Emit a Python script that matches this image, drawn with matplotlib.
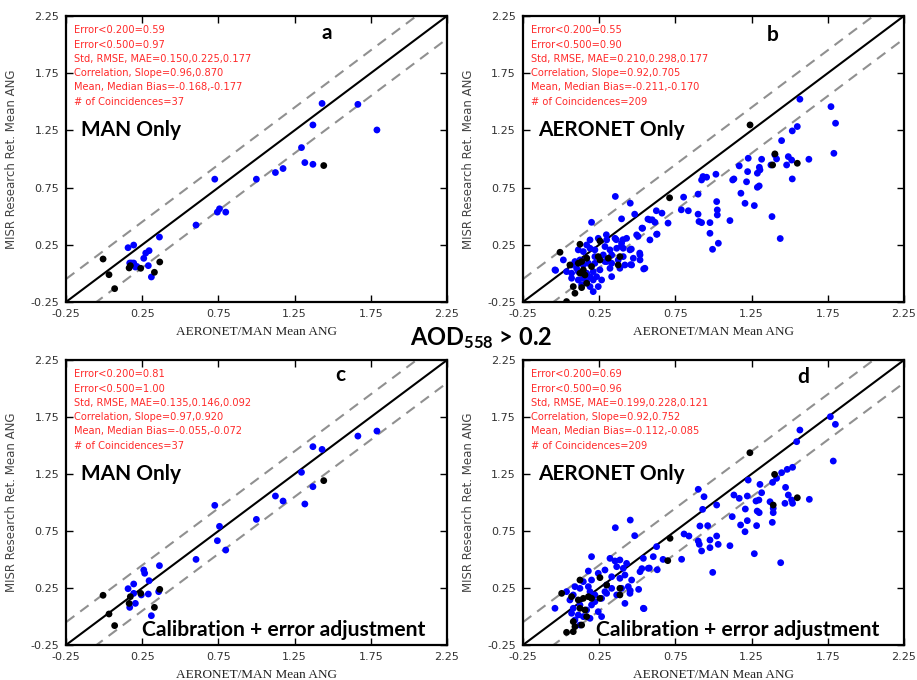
import matplotlib
matplotlib.use("Agg")
import matplotlib.pyplot as plt
import numpy as np

plt.rcParams['mathtext.fontset'] = 'custom'
plt.rcParams['mathtext.rm'] = 'Lato:bold'
plt.rcParams['mathtext.it'] = 'Lato:bold'
plt.rcParams['mathtext.bf'] = 'Lato:bold'

ticks = [-0.25, 0.25, 0.75, 1.25, 1.75, 2.25]
tick_labels = ["-0.25", "0.25", "0.75", "1.25", "1.75", "2.25"]

# panel a : MAN only, before adjustment
a_blue = [(1.43, 1.485), (1.665, 1.477), (1.79, 1.253), (1.37, 1.297), (1.295, 1.099),
          (1.317, 0.968), (1.37, 0.953), (1.174, 0.916), (1.124, 0.881), (0.999, 0.823),
          (0.726, 0.823), (0.757, 0.564), (0.743, 0.535), (0.798, 0.535), (0.603, 0.422),
          (0.363, 0.317), (0.157, 0.224), (0.194, 0.247), (0.273, 0.177), (0.295, 0.198),
          (0.26, 0.131), (0.168, 0.09), (0.194, 0.09), (0.205, 0.055), (0.29, 0.067),
          (0.31, -0.032), (0.18, 0.09), (0.215, 0.06)]
a_black = [(-0.007, 0.125), (0.032, -0.012), (0.069, -0.134), (0.164, 0.047), (0.172, 0.067),
           (0.24, 0.044), (0.33, 0.009), (0.365, 0.099), (1.441, 0.942)]

# panel c : MAN only, calibrated
c_blue = [(1.79, 1.627), (1.665, 1.583), (1.37, 1.49), (1.43, 1.466), (1.295, 1.265),
          (1.37, 1.139), (1.124, 1.057), (1.174, 1.013), (1.317, 0.987), (0.726, 0.975),
          (0.999, 0.852), (0.757, 0.791), (0.743, 0.665), (0.798, 0.583), (0.603, 0.501),
          (0.363, 0.446), (0.26, 0.408), (0.266, 0.379), (0.295, 0.314), (0.157, 0.244),
          (0.194, 0.285), (0.29, 0.197), (0.244, 0.189), (0.194, 0.203), (0.358, 0.218),
          (0.205, 0.115), (0.168, 0.08), (0.31, 0.007)]
c_black = [(-0.007, 0.186), (0.032, 0.022), (0.069, -0.08), (0.164, 0.115), (0.172, 0.174),
           (0.24, 0.203), (0.33, 0.08), (0.365, 0.238), (1.441, 1.192)]

# panel b : AERONET only, before adjustment
b_blue = [(1.567, 1.522), (1.771, 1.457), (1.801, 1.312), (1.790, 1.049), (1.550, 1.283),
          (1.517, 1.245), (1.447, 1.160), (1.228, 1.006), (1.316, 0.997), (1.626, 0.997),
          (1.414, 1.0), (1.403, 1.035), (1.491, 1.02), (1.48, 0.947), (1.513, 0.99),
          (1.377, 0.947), (1.169, 0.939), (1.301, 0.927), (1.305, 0.904), (1.288, 0.875),
          (1.224, 0.889), (1.126, 0.816), (1.134, 0.825), (1.217, 0.80), (1.288, 0.752),
          (1.30, 0.764), (1.18, 0.70), (1.517, 0.825), (1.207, 0.612), (1.268, 0.592),
          (1.021, 0.627), (1.025, 0.554), (1.025, 0.51), (1.108, 0.461), (1.384, 0.496),
          (1.438, 0.304), (0.977, 0.443), (0.922, 0.443), (0.977, 0.35), (1.032, 0.263),
          (0.994, 0.21), (0.955, 0.84), (0.922, 0.816), (1.016, 0.866), (0.931, 0.846),
          (0.804, 0.666), (0.899, 0.692), (0.789, 0.555), (0.835, 0.547), (0.899, 0.517),
          (0.905, 0.453), (0.356, 0.672), (0.454, 0.613), (0.483, 0.517), (0.625, 0.547),
          (0.662, 0.526), (0.57, 0.474), (0.598, 0.468), (0.702, 0.439), (0.531, 0.395),
          (0.63, 0.343), (0.505, 0.323), (0.461, 0.212), (0.516, 0.177), (0.457, 0.076),
          (0.542, 0.038), (-0.036, 0.026),
          (0.200, 0.446), (0.397, 0.476), (0.583, 0.467), (0.616, 0.446), (0.535, 0.394),
          (0.496, 0.336), (0.627, 0.341), (0.583, 0.292), (0.430, 0.306), (0.397, 0.263),
          (0.354, 0.306), (0.299, 0.292), (0.244, 0.306), (0.190, 0.292), (0.168, 0.248),
          (0.113, 0.205), (0.146, 0.190), (0.190, 0.219), (0.222, 0.205), (0.288, 0.234),
          (0.321, 0.205), (0.365, 0.219), (0.408, 0.219), (0.452, 0.205), (0.518, 0.161),
          (0.474, 0.132), (0.408, 0.146), (0.332, 0.161), (0.277, 0.161), (0.222, 0.146),
          (0.168, 0.132), (0.124, 0.117), (0.091, 0.103), (0.069, 0.073), (0.102, 0.044),
          (0.146, 0.073), (0.179, 0.088), (0.222, 0.088), (0.288, 0.103), (0.332, 0.088),
          (0.375, 0.117), (0.419, 0.073), (0.463, 0.073), (0.518, 0.117), (0.550, 0.044),
          (0.386, 0.044), (0.321, 0.044), (0.255, 0.030), (0.211, 0.015), (0.168, 0.001),
          (0.113, 0.015), (0.069, 0.001), (0.036, 0.015), (0.015, 0.117), (-0.040, 0.030),
          (0.233, -0.029), (0.190, -0.029), (0.146, -0.043), (0.113, -0.058), (0.168, -0.072),
          (0.211, -0.058), (0.266, -0.058), (0.135, -0.101), (0.190, -0.116), (0.244, -0.116),
          (0.211, -0.160), (0.299, 0.103), (0.332, -0.029), (0.069, -0.043), (0.297, 0.337),
          (0.362, 0.294), (0.406, 0.294), (0.395, 0.235)]
b_black = [(1.24, 1.297), (1.403, 1.044), (1.388, 0.947), (1.550, 0.962), (0.712, 0.66),
           (0.124, 0.254), (0.255, 0.283), (-0.007, 0.184), (0.058, 0.073), (0.113, 0.088),
           (0.135, 0.103), (0.168, 0.132), (0.244, 0.146), (0.255, 0.117), (0.200, 0.059),
           (0.146, 0.030), (0.124, 0.001), (0.157, -0.014), (0.386, 0.146), (0.375, 0.073),
           (0.310, 0.132), (0.080, -0.116), (0.135, -0.125), (0.168, -0.087), (0.091, -0.174),
           (0.036, -0.247)]

# panel d : AERONET only, calibrated
d_blue = [(1.567, 1.636), (1.546, 1.534), (1.767, 1.753), (1.80, 1.686), (1.786, 1.364),
          (1.519, 1.309), (1.484, 1.291), (1.447, 1.262), (1.414, 1.212), (1.388, 1.177),
          (1.305, 1.159), (1.228, 1.197), (1.316, 1.086), (1.473, 1.133), (1.491, 1.066),
          (1.513, 1.022), (1.519, 0.993), (1.469, 0.993), (1.629, 1.028), (1.371, 1.007),
          (1.392, 0.949), (1.392, 0.911), (1.386, 0.826), (1.298, 1.022), (1.279, 1.013),
          (1.287, 0.925), (1.300, 0.911), (1.222, 1.057), (1.169, 1.037), (1.134, 1.066),
          (1.209, 0.943), (1.222, 0.841), (1.178, 0.803), (1.207, 0.744), (1.283, 0.797),
          (1.123, 0.876), (1.021, 0.978), (0.929, 0.940), (0.938, 1.051), (0.900, 1.116),
          (0.911, 0.794), (0.962, 0.797), (0.807, 0.724), (0.839, 0.706), (0.900, 0.662),
          (0.907, 0.633), (0.977, 0.671), (1.021, 0.706), (1.031, 0.633), (0.977, 0.604),
          (0.922, 0.575), (1.108, 0.621), (1.268, 0.551), (1.441, 0.472), (0.995, 0.387),
          (0.791, 0.502), (0.627, 0.613), (0.605, 0.525), (0.540, 0.510), (0.53, 0.42),
          (0.579, 0.425), (0.631, 0.41), (0.356, 0.779), (0.454, 0.846), (0.483, 0.709),
          (0.454, 0.227), (0.509, 0.238), (0.544, 0.069), (0.669, 0.501),
          (0.200, 0.525), (0.321, 0.510), (0.354, 0.487), (0.386, 0.496), (0.430, 0.466),
          (0.408, 0.423), (0.365, 0.437), (0.518, 0.393), (0.572, 0.423), (0.179, 0.399),
          (0.244, 0.379), (0.288, 0.408), (0.332, 0.349), (0.386, 0.335), (0.419, 0.364),
          (0.463, 0.320), (0.200, 0.320), (0.146, 0.306), (0.091, 0.262), (0.124, 0.247),
          (0.179, 0.262), (0.299, 0.276), (0.332, 0.247), (0.397, 0.247), (0.441, 0.262),
          (0.365, 0.189), (0.299, 0.203), (0.266, 0.159), (0.222, 0.130), (0.190, 0.218),
          (0.080, 0.189), (0.058, 0.145), (0.036, 0.218), (-0.040, 0.072), (0.124, 0.101),
          (0.168, 0.057), (0.200, 0.101), (0.244, 0.042), (0.080, 0.072), (0.069, 0.028),
          (0.113, 0.013), (0.146, -0.001), (0.190, -0.016), (0.091, -0.031), (0.124, -0.075),
          (0.288, 0.218), (0.540, 0.072), (0.419, 0.115), (0.452, 0.203), (0.222, 0.189),
          (0.266, -0.001)]
d_black = [(1.239, 1.437), (1.401, 1.247), (1.392, 0.978), (1.550, 1.042), (0.715, 0.686),
           (0.70, 0.49), (0.124, 0.320), (0.255, 0.341), (0.004, 0.203), (0.069, 0.174),
           (0.113, 0.145), (0.146, 0.159), (0.179, 0.174), (0.200, 0.159), (0.255, 0.159),
           (0.124, 0.072), (0.157, 0.057), (0.168, -0.001), (0.386, 0.189), (0.386, 0.247),
           (0.080, -0.045), (0.091, -0.089), (0.135, -0.075), (0.036, -0.139), (0.080, -0.133),
           (0.299, 0.276)]

stats_a = ["Error<0.200=0.59", "Error<0.500=0.97", "Std, RMSE, MAE=0.150,0.225,0.177",
           "Correlation, Slope=0.96,0.870", "Mean, Median Bias=-0.168,-0.177",
           "# of Coincidences=37"]
stats_b = ["Error<0.200=0.55", "Error<0.500=0.90", "Std, RMSE, MAE=0.210,0.298,0.177",
           "Correlation, Slope=0.92,0.705", "Mean, Median Bias=-0.211,-0.170",
           "# of Coincidences=209"]
stats_c = ["Error<0.200=0.81", "Error<0.500=1.00", "Std, RMSE, MAE=0.135,0.146,0.092",
           "Correlation, Slope=0.97,0.920", "Mean, Median Bias=-0.055,-0.072",
           "# of Coincidences=37"]
stats_d = ["Error<0.200=0.69", "Error<0.500=0.96", "Std, RMSE, MAE=0.199,0.228,0.121",
           "Correlation, Slope=0.92,0.752", "Mean, Median Bias=-0.112,-0.085",
           "# of Coincidences=209"]

BOLD = ['Lato', 'DejaVu Sans']


def draw_panel(ax, blue, black, stats, letter, letter_xy, label, calib_x=None):
    bx, by = np.array(blue).T
    kx, ky = np.array(black).T
    lim = [-0.25, 2.25]
    ax.plot(lim, lim, color='black', lw=1.5, zorder=2)
    ax.plot(lim, [lim[0] + 0.2, lim[1] + 0.2], color='#909090', lw=1.5, dashes=(5, 3.5), zorder=2)
    ax.plot(lim, [lim[0] - 0.2, lim[1] - 0.2], color='#909090', lw=1.5, dashes=(5, 3.5), zorder=2)
    ax.scatter(bx, by, s=24, c='#0000ff', edgecolors='none', zorder=3)
    ax.scatter(kx, ky, s=24, c='black', edgecolors='none', zorder=4)
    ax.set_xlim(lim)
    ax.set_ylim(lim)
    ax.set_xticks(ticks)
    ax.set_yticks(ticks)
    ax.set_xticklabels(tick_labels)
    ax.set_yticklabels(tick_labels)
    ax.tick_params(direction='in', length=5, width=1, top=True, right=True,
                   labelsize=8, labelcolor='#333333', pad=5)
    for sp in ax.spines.values():
        sp.set_linewidth(1.6)
    for i, s in enumerate(stats):
        ax.text(-0.2, 2.125 - i * 0.125, s, color='#ff2a2a', fontsize=7.1, va='center')
    ax.text(letter_xy[0], letter_xy[1], letter, family=BOLD, fontweight='bold',
            fontsize=15, ha='center', va='center')
    ax.text(-0.15, 1.25, label, family=BOLD, fontweight='bold', fontsize=15, va='center')
    if calib_x is not None:
        ax.text(calib_x, -0.12, "Calibration + error adjustment", family=BOLD,
                fontweight='bold', fontsize=15.2, va='center')
    ax.set_ylabel("MISR Research Ret. Mean ANG", fontsize=8.5, color='#444444', labelpad=9)
    ax.set_xlabel("AERONET/MAN Mean ANG", fontsize=9.5, family='Liberation Serif',
                  color='#222222', labelpad=5)


fig = plt.figure(figsize=(9.17, 6.8), dpi=100)
ax_a = fig.add_axes([0.072, 0.556, 0.4155, 0.4206])
ax_b = fig.add_axes([0.5703, 0.556, 0.4155, 0.4206])
ax_c = fig.add_axes([0.072, 0.0515, 0.4155, 0.419])
ax_d = fig.add_axes([0.5703, 0.0515, 0.4155, 0.419])

draw_panel(ax_a, a_blue, a_black, stats_a, "a", (1.46, 2.10), "MAN Only")
draw_panel(ax_b, b_blue, b_black, stats_b, "b", (1.39, 2.08), "AERONET Only")
draw_panel(ax_c, c_blue, c_black, stats_c, "c", (1.55, 2.12), "MAN Only", calib_x=0.25)
draw_panel(ax_d, d_blue, d_black, stats_d, "d", (1.59, 2.10), "AERONET Only", calib_x=0.23)

fig.text(0.525, 0.503, "AOD$_{558}$ > 0.2", family=BOLD, fontweight='bold', fontsize=17,
         ha='center', va='center')

fig.savefig("out.png", dpi=100)
